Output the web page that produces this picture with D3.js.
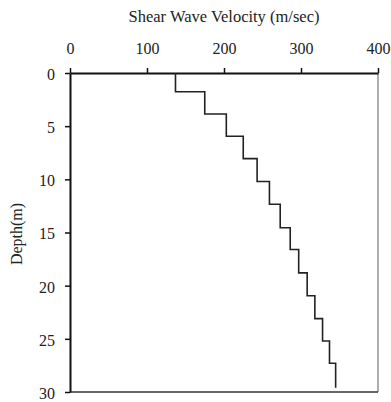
<!DOCTYPE html>
<html>
<head>
<meta charset="utf-8">
<script src="https://cdn.jsdelivr.net/npm/d3@7"></script>
<style>
  body { margin: 0; background: #fff; }
  text { font-family: "Liberation Serif", "Times New Roman", serif; fill: #222; }
</style>
</head>
<body>
<svg id="chart" width="391" height="402"></svg>
<script>
// layer velocities (m/sec) and layer boundaries (m)
const velocities = [137, 175, 203, 225, 243, 259, 273, 286, 297, 308, 318, 328, 337, 345];
const depthTops = [0, 1.77, 3.85, 5.95, 8.05, 10.2, 12.35, 14.55, 16.6, 18.8, 20.95, 23.1, 25.2, 27.3];
const bottomDepth = 29.6;
const xTicks = [0, 100, 200, 300, 400];
const yTicks = [0, 5, 10, 15, 20, 25, 30];

let svg = d3.select("#chart");
let plotLeft = 70, plotRight = 378, plotTop = 73, plotBottom = 392;

let x = d3.scaleLinear().domain([0, 400]).range([plotLeft, plotRight]);
let y = d3.scaleLinear().domain([0, 30]).range([plotTop, plotBottom]);

// frame (right and bottom)
svg.append("line")
  .attr("x1", plotRight).attr("x2", plotRight)
  .attr("y1", plotTop).attr("y2", plotBottom)
  .style("stroke", "#777").style("stroke-width", 1.2);
svg.append("line")
  .attr("x1", plotLeft).attr("x2", plotRight)
  .attr("y1", plotBottom).attr("y2", plotBottom)
  .style("stroke", "#333").style("stroke-width", 1.5);

// top axis
let xAxis = svg.append("g")
  .attr("transform", "translate(0," + plotTop + ")")
  .call(d3.axisTop(x).tickValues(xTicks).tickSize(5).tickPadding(14).tickSizeOuter(0));

// left axis
let yAxis = svg.append("g")
  .attr("transform", "translate(" + plotLeft + ",0)")
  .call(d3.axisLeft(y).tickValues(yTicks).tickSize(5).tickPadding(10).tickSizeOuter(0));

[xAxis, yAxis].forEach(function(g) {
  g.select(".domain").style("stroke", "#111").style("stroke-width", 2);
  g.selectAll(".tick line").style("stroke", "#111").style("stroke-width", 1.5);
  g.selectAll(".tick text")
    .style("font-family", "Liberation Serif")
    .style("font-size", "16px")
    .style("fill", "#222");
});
yAxis.selectAll(".tick text").attr("dy", "0.4em");

// step profile
let pts = [];
velocities.forEach(function(v, i) {
  pts.push([v, depthTops[i]]);
  pts.push([v, i + 1 < depthTops.length ? depthTops[i + 1] : bottomDepth]);
});
let line = d3.line()
  .x(d => x(d[0]))
  .y(d => y(d[1]));
svg.append("path")
  .datum(pts)
  .attr("d", line)
  .style("fill", "none")
  .style("stroke", "#222")
  .style("stroke-width", 1.6);

// titles
svg.append("text")
  .attr("x", 224)
  .attr("y", 22)
  .style("text-anchor", "middle")
  .style("font-size", "16.5px")
  .text("Shear Wave Velocity (m/sec)");

svg.append("text")
  .attr("transform", "translate(22,234) rotate(-90)")
  .style("text-anchor", "middle")
  .style("font-size", "16px")
  .text("Depth(m)");
</script>
</body>
</html>
